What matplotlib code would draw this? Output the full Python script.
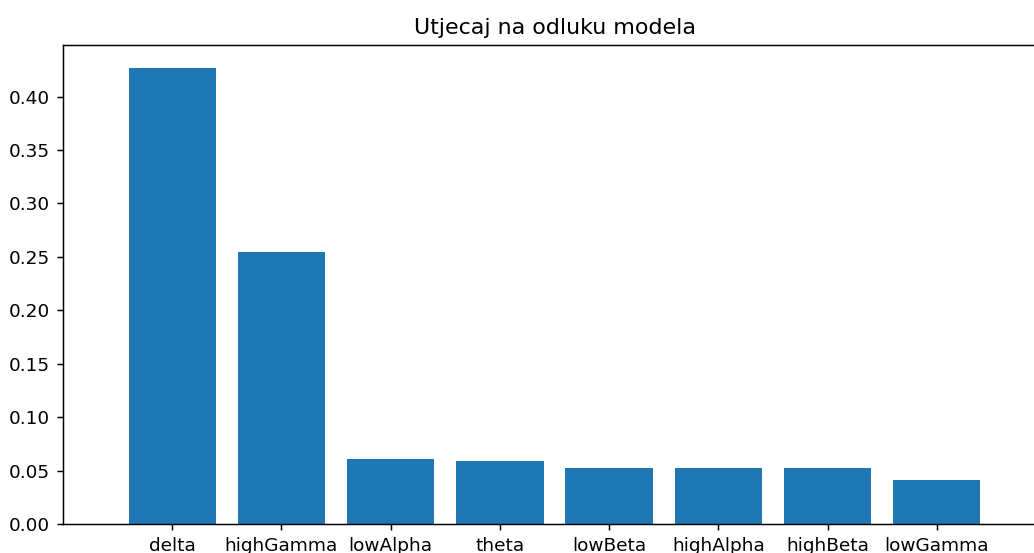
import matplotlib
matplotlib.use("Agg")
import matplotlib.pyplot as plt

# feature importances
features = ['delta', 'highGamma', 'lowAlpha', 'theta', 'lowBeta', 'highAlpha', 'highBeta', 'lowGamma']
importance = [0.427, 0.255, 0.061, 0.059, 0.0525, 0.0525, 0.0525, 0.041]

dpi = 133
fig = plt.figure(figsize=(1034 / dpi, 553 / dpi), dpi=dpi)
# axes run past the right edge of the picture, like the cropped original
ax = fig.add_axes([63 / 1034, 29 / 553, 983 / 1034, 479 / 553])

ax.bar(features, importance, width=0.8, color='#1f77b4')
ax.set_xlim(-1, len(features))
ax.set_title('Utjecaj na odluku modela', fontsize=12)

fig.savefig('out.png', dpi=dpi)
